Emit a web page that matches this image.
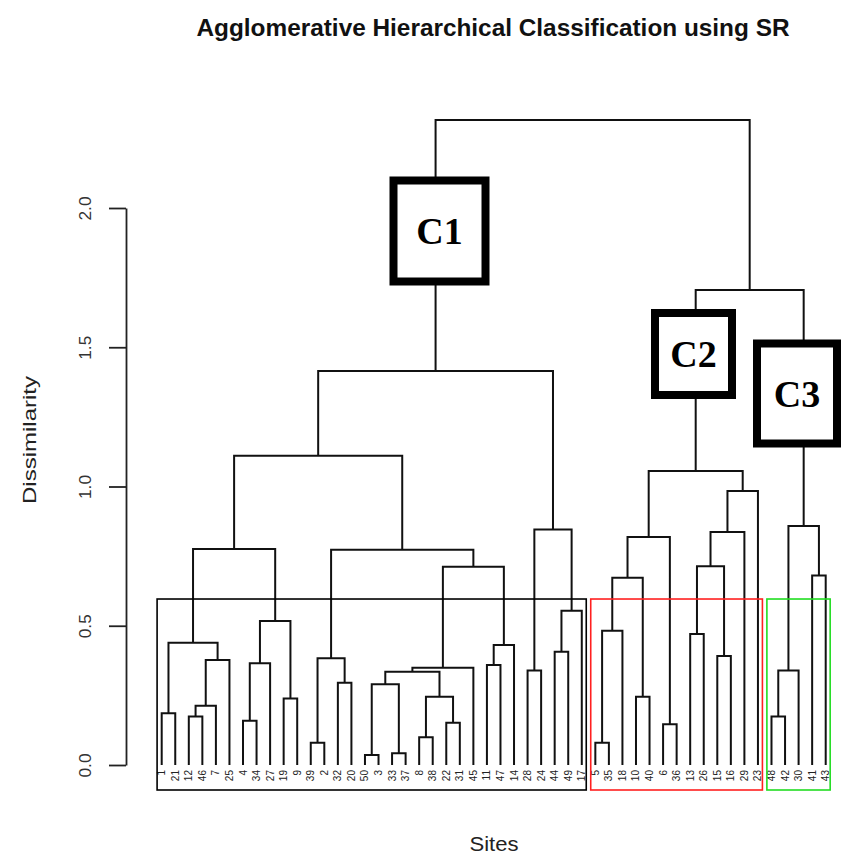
<!DOCTYPE html>
<html>
<head>
<meta charset="utf-8">
<script src="https://cdn.jsdelivr.net/npm/d3@7"></script>
<style>
  body { margin: 0; background: #fff; }
  svg { display: block; font-family: 'Liberation Sans', Arial, sans-serif; }
</style>
</head>
<body>
<div id="chart"></div>
<script>
// leaf order as drawn, left to right
const leafLabels = [
  '1', '21', '12', '46', '7', '25', '4', '34', '27', '19', '9', '39', '2', '32', '20', '50',
  '3', '33', '37', '8', '38', '22', '31', '45', '11', '47', '14', '28', '24', '44', '49', '17',
  '5', '35', '18', '10', '40', '6', '36', '13', '26', '15', '16', '29', '23',
  '48', '42', '30', '41', '43'
]

// hclust style merges: negative = leaf position (1-based), positive = earlier merge
const merges = [
  [-1, -2], [-3, -4], [2, -5], [3, -6], [1, 4], [-7, -8], [6, -9], [-10, -11], [7, 8], [5, 9],
  [-12, -13], [-14, -15], [11, 12], [-16, -17], [-18, -19], [14, 15], [-20, -21], [-22, -23], [17, 18], [16, 19],
  [20, -24], [-25, -26], [22, -27], [21, 23], [13, 24], [10, 25], [-28, -29], [-30, -31], [28, -32], [27, 29],
  [26, 30], [-33, -34], [32, -35], [-36, -37], [33, 34], [-38, -39], [35, 36], [-40, -41], [-42, -43], [38, 39],
  [40, -44], [41, -45], [37, 42], [-46, -47], [44, -48], [-49, -50], [45, 46], [43, 47], [31, 48]
]

const mergeHeights = [
  0.186, 0.174, 0.213, 0.377, 0.439, 0.159, 0.365, 0.239, 0.517, 0.776,
  0.08, 0.295, 0.383, 0.036, 0.042, 0.29, 0.1, 0.152, 0.245, 0.335,
  0.349, 0.359, 0.431, 0.712, 0.773, 1.11, 0.339, 0.407, 0.554, 0.846,
  1.415, 0.08, 0.482, 0.245, 0.672, 0.146, 0.819, 0.47, 0.391, 0.714,
  0.837, 0.984, 1.056, 0.174, 0.339, 0.68, 0.858, 1.706, 2.316
]

const clusterNames = ['C1', 'C2', 'C3']
const clusterSizes = [32, 13, 5]
const clusterColors = ['#000000', '#ff2020', '#22dd22']
const cutHeight = 0.596

const yTicks = [0, 0.5, 1, 1.5, 2]

const width = 842
const height = 855

const svg = d3
  .select('#chart')
  .append('svg')
  .attr('width', width)
  .attr('height', height)

const xScale = d3
  .scalePoint()
  .domain(leafLabels)
  .range([161.7, 825.7])

const yScale = d3
  .scaleLinear()
  .domain([0, 2])
  .range([765, 208])

// title and axis titles
svg
  .append('text')
  .attr('x', 493)
  .attr('y', 36)
  .attr('text-anchor', 'middle')
  .attr('font-weight', 700)
  .attr('font-size', 23)
  .attr('textLength', 593)
  .attr('lengthAdjust', 'spacingAndGlyphs')
  .attr('fill', '#111')
  .text('Agglomerative Hierarchical Classification using SR')

svg
  .append('text')
  .attr('transform', 'translate(36,440) rotate(-90)')
  .attr('text-anchor', 'middle')
  .attr('font-size', 19)
  .attr('textLength', 128)
  .attr('lengthAdjust', 'spacingAndGlyphs')
  .attr('fill', '#222')
  .text('Dissimilarity')

svg
  .append('text')
  .attr('x', 494)
  .attr('y', 851)
  .attr('text-anchor', 'middle')
  .attr('font-size', 21)
  .attr('textLength', 49)
  .attr('lengthAdjust', 'spacingAndGlyphs')
  .attr('fill', '#222')
  .text('Sites')

// y axis
const yAxis = d3
  .axisLeft(yScale)
  .tickValues(yTicks)
  .tickSize(17)
  .tickSizeOuter(0)
  .tickFormat(d3.format('.1f'))

const axisG = svg
  .append('g')
  .attr('transform', 'translate(126,0)')
  .call(yAxis)

axisG.select('.domain').attr('stroke', '#222').attr('stroke-width', 1.8)
axisG.selectAll('.tick line').attr('stroke', '#222').attr('stroke-width', 1.8)
axisG
  .selectAll('.tick text')
  .attr('font-size', 17)
  .attr('font-family', "'Liberation Sans', Arial, sans-serif")
  .attr('fill', '#333')
  .attr('transform', 'rotate(-90)')
  .attr('x', 0)
  .attr('y', -41)
  .attr('dy', '0.35em')
  .attr('text-anchor', 'middle')
  .attr('textLength', 24)
  .attr('lengthAdjust', 'spacingAndGlyphs')

// compute node positions
const nodes = merges.map(() => ({}))
function childPos(c) {
  if (c < 0) {
    return { x: xScale(leafLabels[-c - 1]), h: 0 }
  }
  return nodes[c - 1]
}
merges.forEach((m, i) => {
  const a = childPos(m[0])
  const b = childPos(m[1])
  nodes[i] = { x: (a.x + b.x) / 2, h: mergeHeights[i], a: a, b: b }
})

const tree = svg.append('g')

tree
  .selectAll('.link')
  .data(nodes)
  .enter()
  .append('path')
  .attr('class', 'link')
  .attr('fill', 'none')
  .attr('stroke', '#111')
  .attr('stroke-width', 2)
  .attr('d', d => {
    const y = yScale(d.h)
    return 'M' + d.a.x + ',' + yScale(d.a.h) +
      'V' + y + 'H' + d.b.x + 'V' + yScale(d.b.h)
  })

// leaf labels
tree
  .selectAll('.leaf')
  .data(leafLabels)
  .enter()
  .append('text')
  .attr('class', 'leaf')
  .attr('transform', d => 'translate(' + (xScale(d) + 3.5) + ',770) rotate(-90)')
  .attr('text-anchor', 'end')
  .attr('font-size', 10)
  .attr('fill', '#222')
  .text(d => d)

// cluster boxes (rect.hclust)
const step = xScale.step()
let start = 0
clusterSizes.forEach((n, i) => {
  const x0 = xScale(leafLabels[start]) - 0.34 * step
  const x1 = xScale(leafLabels[start + n - 1]) + 0.33 * step
  svg
    .append('rect')
    .attr('x', x0)
    .attr('y', yScale(cutHeight))
    .attr('width', x1 - x0)
    .attr('height', 790 - yScale(cutHeight))
    .attr('fill', 'none')
    .attr('stroke', clusterColors[i])
    .attr('stroke-width', 1.6)
  start += n
})

// cluster name boxes
const nameBoxes = [
  { x: 393.5, y: 180.5, w: 92, h: 101 },
  { x: 655, y: 313, w: 77, h: 82 },
  { x: 757, y: 343.5, w: 80, h: 100 }
]

const labelG = svg
  .selectAll('.cname')
  .data(clusterNames)
  .enter()
  .append('g')
  .attr('class', 'cname')

labelG
  .append('rect')
  .attr('x', (d, i) => nameBoxes[i].x)
  .attr('y', (d, i) => nameBoxes[i].y)
  .attr('width', (d, i) => nameBoxes[i].w)
  .attr('height', (d, i) => nameBoxes[i].h)
  .attr('fill', '#fff')
  .attr('stroke', '#000')
  .attr('stroke-width', 8)

labelG
  .append('text')
  .attr('x', (d, i) => nameBoxes[i].x + nameBoxes[i].w / 2)
  .attr('y', (d, i) => nameBoxes[i].y + nameBoxes[i].h / 2 + 13)
  .attr('text-anchor', 'middle')
  .attr('font-family', "'Liberation Serif', 'Times New Roman', serif")
  .attr('font-weight', 700)
  .attr('font-size', 38)
  .attr('fill', '#000')
  .text(d => d)
</script>
</body>
</html>
